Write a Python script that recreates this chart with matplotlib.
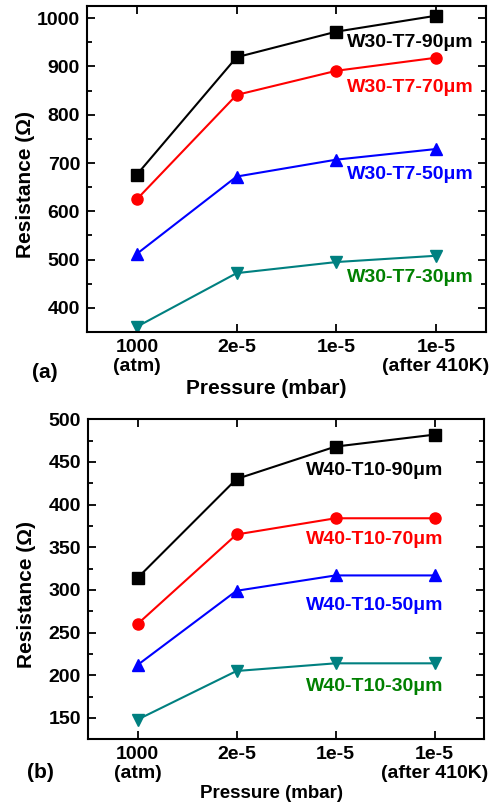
import matplotlib
matplotlib.use('Agg')
import matplotlib.pyplot as plt
from matplotlib.ticker import MultipleLocator

plt.rcParams['font.family'] = ['Liberation Sans', 'DejaVu Sans']
plt.rcParams['font.weight'] = 'bold'

# shared x categories
xticklabels = ['1000\n(atm)', '2e-5', '1e-5', '1e-5\n(after 410K)']
xpos = [0, 1, 2, 3]

# panel (a): W30-T7
a_labels = ['W30-T7-90\u03bcm', 'W30-T7-70\u03bcm', 'W30-T7-50\u03bcm', 'W30-T7-30\u03bcm']
a_90 = [676, 919, 972, 1005]
a_70 = [625, 841, 891, 918]
a_50 = [512, 672, 707, 729]
a_30 = [361, 472, 495, 508]

# panel (b): W40-T10
b_labels = ['W40-T10-90\u03bcm', 'W40-T10-70\u03bcm', 'W40-T10-50\u03bcm', 'W40-T10-30\u03bcm']
b_90 = [314, 430, 468, 482]
b_70 = [260, 365, 384, 384]
b_50 = [212, 299, 317, 317]
b_30 = [148, 205, 214, 214]

line_colors = ['black', 'red', 'blue', '#008080']
text_colors = ['black', 'red', 'blue', '#008000']
markers = ['s', 'o', '^', 'v']

fig = plt.figure(figsize=(5, 8.06), dpi=100)
ax1 = fig.add_axes([0.174, 0.588, 0.798, 0.4045])
ax2 = fig.add_axes([0.176, 0.0828, 0.792, 0.397])


def draw(ax, series, labels, label_xy, ylim, major, minor):
    for s, c, m in zip(series, line_colors, markers):
        ax.plot(xpos, s, color=c, marker=m, markersize=8, linewidth=1.5)
    for lab, (tx, ty), tc in zip(labels, label_xy, text_colors):
        ax.text(tx, ty, lab, color=tc, fontsize=14, fontweight='bold',
                ha='center', va='center')
    ax.set_xlim(-0.5, 3.5)
    ax.set_ylim(*ylim)
    ax.set_xticks(xpos)
    ax.set_xticklabels(xticklabels, fontsize=14, fontweight='bold', linespacing=1.15)
    ax.yaxis.set_major_locator(MultipleLocator(major))
    ax.yaxis.set_minor_locator(MultipleLocator(minor))
    for lab in ax.get_yticklabels():
        lab.set_fontsize(14)
        lab.set_fontweight('bold')
    ax.tick_params(which='both', direction='in', top=True, right=True, width=1.3)
    ax.tick_params(which='major', length=6, pad=5)
    ax.tick_params(which='minor', length=3.5)
    for sp in ax.spines.values():
        sp.set_linewidth(1.5)


draw(ax1, [a_90, a_70, a_50, a_30], a_labels,
     [(2.74, 950), (2.74, 856), (2.74, 677), (2.74, 463)],
     (350, 1025), 100, 50)
draw(ax2, [b_90, b_70, b_50, b_30], b_labels,
     [(2.40, 440), (2.40, 359), (2.40, 282), (2.40, 187)],
     (125, 500), 50, 25)

ax1.text(-0.155, 0.454, 'Resistance (\u03a9)', transform=ax1.transAxes, rotation=90,
         ha='center', va='center', fontsize=15, fontweight='bold')
ax2.text(-0.155, 0.4525, 'Resistance (\u03a9)', transform=ax2.transAxes, rotation=90,
         ha='center', va='center', fontsize=15, fontweight='bold')
ax1.text(0.45, -0.172, 'Pressure (mbar)', transform=ax1.transAxes,
         ha='center', va='center', fontsize=15, fontweight='bold')
ax2.text(0.463, -0.168, 'Pressure (mbar)', transform=ax2.transAxes,
         ha='center', va='center', fontsize=13.5, fontweight='bold')
ax1.text(-0.105, -0.123, '(a)', transform=ax1.transAxes,
         ha='center', va='center', fontsize=15, fontweight='bold')
ax2.text(-0.119, -0.105, '(b)', transform=ax2.transAxes,
         ha='center', va='center', fontsize=15, fontweight='bold')

fig.savefig('out.png', dpi=100)
